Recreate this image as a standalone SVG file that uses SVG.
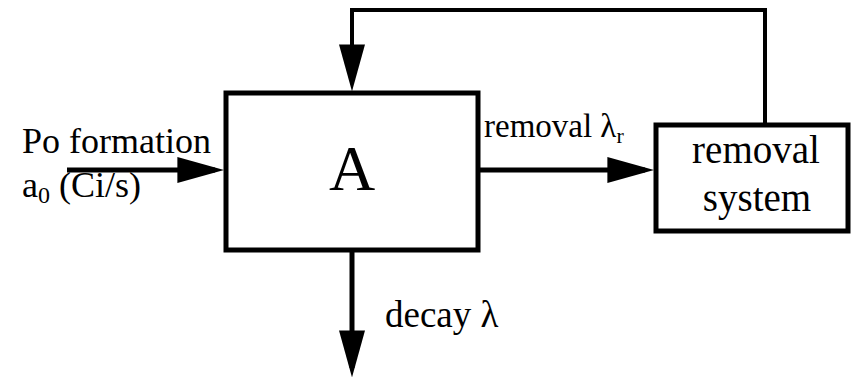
<svg xmlns="http://www.w3.org/2000/svg" width="851" height="379" viewBox="0 0 851 379">
<style>
.box{fill:#fff;stroke:#000;stroke-width:5}
.ln{fill:none;stroke:#000;stroke-width:5}
.t{font-family:"Liberation Serif","Times New Roman",serif;fill:#000}
</style>
<defs>
<marker id="ah" viewBox="0 0 10 10" refX="8" refY="5" markerUnits="userSpaceOnUse" markerWidth="47" markerHeight="26" orient="auto" preserveAspectRatio="none">
<path d="M0,0 L10,5 L0,10 Z" fill="#000"/>
</marker>
</defs>
<rect width="851" height="379" fill="#fff"/>
<g id="connectors">
<path class="ln" d="M67,170 H215" marker-end="url(#ah)"/>
<path class="ln" d="M478,170 H645" marker-end="url(#ah)"/>
<path class="ln" d="M352,250 V368" marker-end="url(#ah)"/>
<path class="ln" style="stroke-width:4" d="M765,124 V10 H352 V82" marker-end="url(#ah)"/>
</g>
<g id="nodeA">
<rect class="box" x="226" y="93" width="252" height="157"/>
<text class="t" x="352" y="190" font-size="64" text-anchor="middle">A</text>
</g>
<g id="nodeRemoval">
<rect class="box" x="656" y="125" width="192" height="106"/>
<text class="t" x="756" y="163" font-size="39" text-anchor="middle">removal</text>
<text class="t" x="757" y="211" font-size="39" text-anchor="middle">system</text>
</g>
<g id="labels">
<text class="t" x="22" y="153" font-size="36">Po formation</text>
<text class="t" x="22" y="197" font-size="36">a<tspan font-size="24" dy="6">0</tspan><tspan dy="-6"> (Ci/s)</tspan></text>
<text class="t" x="484" y="137" font-size="33">removal λ<tspan font-size="22" dy="6">r</tspan></text>
<text class="t" x="385" y="327" font-size="37">decay λ</text>
</g>
</svg>
